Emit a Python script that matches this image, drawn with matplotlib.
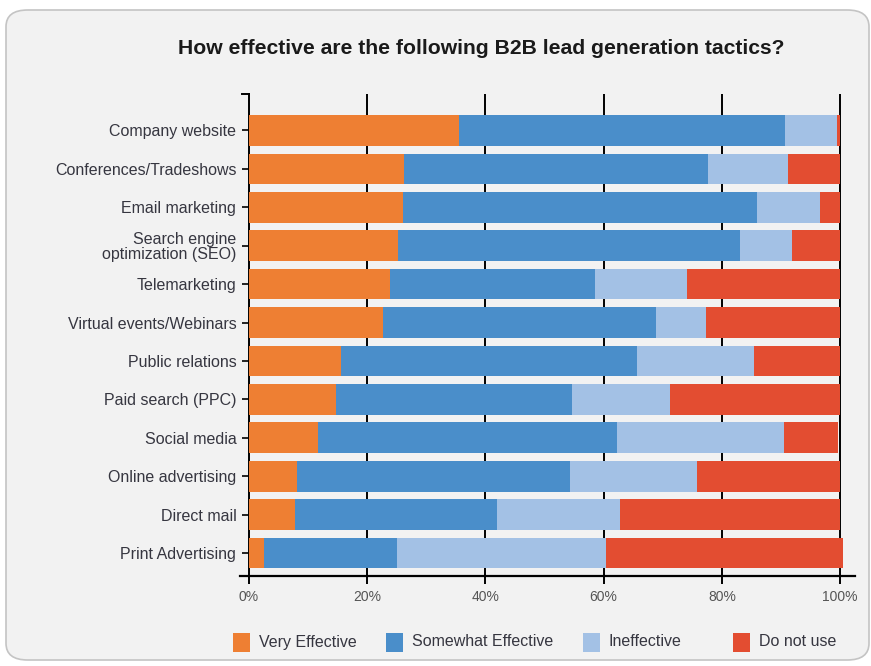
import matplotlib
matplotlib.use("Agg")
import matplotlib.pyplot as plt
from matplotlib.patches import FancyBboxPatch, Rectangle
from matplotlib.lines import Line2D
import numpy as np

categories = ["Company website", "Conferences/Tradeshows", "Email marketing",
              "Search engine\noptimization (SEO)", "Telemarketing", "Virtual events/Webinars",
              "Public relations", "Paid search (PPC)", "Social media", "Online advertising",
              "Direct mail", "Print Advertising"]
very_effective = [35.6, 26.3, 26.0, 25.2, 23.9, 22.7, 15.5, 14.7, 11.7, 8.1, 7.8, 2.6]
somewhat_effective = [55.1, 51.3, 60.0, 57.9, 34.6, 46.2, 50.2, 39.9, 50.5, 46.2, 34.1, 22.4]
ineffective = [8.7, 13.6, 10.5, 8.7, 15.6, 8.4, 19.7, 16.6, 28.3, 21.4, 20.8, 35.4]
do_not_use = [0.6, 8.8, 3.5, 8.2, 25.9, 22.7, 14.6, 28.8, 9.2, 24.3, 37.3, 40.1]
series_names = ["Very Effective", "Somewhat Effective", "Ineffective", "Do not use"]
colors = ["#EE7F33", "#4A8ECA", "#A3C1E5", "#E34D31"]
xticks = [0, 20, 40, 60, 80, 100]
xticklabels = ["0%", "20%", "40%", "60%", "80%", "100%"]

FONT = ["Liberation Sans", "DejaVu Sans"]
plt.rcParams['font.family'] = FONT

W, H = 871, 666
fig = plt.figure(figsize=(W / 100, H / 100), dpi=100)
fig.patch.set_facecolor("white")

# rounded panel
panel = FancyBboxPatch((6 / W, 6 / H), (W - 8) / W, (H - 16) / H,
                       boxstyle="round,pad=0,rounding_size=0.025",
                       transform=fig.transFigure, facecolor="#F2F2F2",
                       edgecolor="#C4C4C4", linewidth=1.2, zorder=-10)
fig.patches.append(panel)

ax = fig.add_axes([240 / W, (H - 576) / H, 615 / W, 482 / H])
ax.set_facecolor("none")
ax.set_zorder(5)

y = np.arange(len(categories))
data = [very_effective, somewhat_effective, ineffective, do_not_use]
left = np.zeros(len(categories))
for vals, c, name in zip(data, colors, series_names):
    ax.barh(y, vals, left=left, height=0.8, color=c, edgecolor="none",
            label=name, zorder=3)
    left += np.array(vals)

ax.set_xlim(-1.5, 102.5)
ax.set_ylim(11.6, -0.95)

for xv in xticks[1:]:
    ax.axvline(xv, color="black", linewidth=1.4, zorder=1)

for s in ["top", "right"]:
    ax.spines[s].set_visible(False)
ax.spines["left"].set_position(("data", 0))
ax.spines["left"].set_linewidth(1.4)
ax.spines["bottom"].set_linewidth(1.6)

ax.set_yticks(y)
ax.set_yticklabels(categories, fontsize=11.5, color="#363640", linespacing=0.95)
ax.tick_params(axis="y", length=5, width=1.2, pad=4, direction="out")
ax.set_xticks(xticks)
ax.set_xticklabels(xticklabels, fontsize=10, color="#555555")
ax.tick_params(axis="x", length=6, width=1.4, pad=4, direction="out")

# small tick at top of y axis
ax.add_line(Line2D([-1.2, 0], [-0.95, -0.95], color="black", linewidth=1.4,
                   clip_on=False, zorder=4))

fig.text(481 / W, 1 - 48 / H, "How effective are the following B2B lead generation tactics?",
         ha="center", va="center", fontsize=15.2, fontweight="bold", color="#1a1a1a")

# legend
leg_items = [(233, "Very Effective"), (386, "Somewhat Effective"),
             (583, "Ineffective"), (733, "Do not use")]
for (xpx, name), c in zip(leg_items, colors):
    fig.patches.append(Rectangle((xpx / W, (H - 652) / H), 17 / W, 19 / H,
                                 transform=fig.transFigure, facecolor=c,
                                 edgecolor="none"))
    fig.text((xpx + 26) / W, 1 - 642 / H, name, ha="left", va="center",
             fontsize=11.5, color="#363640")

fig.savefig("out.png", dpi=100, facecolor="white")
